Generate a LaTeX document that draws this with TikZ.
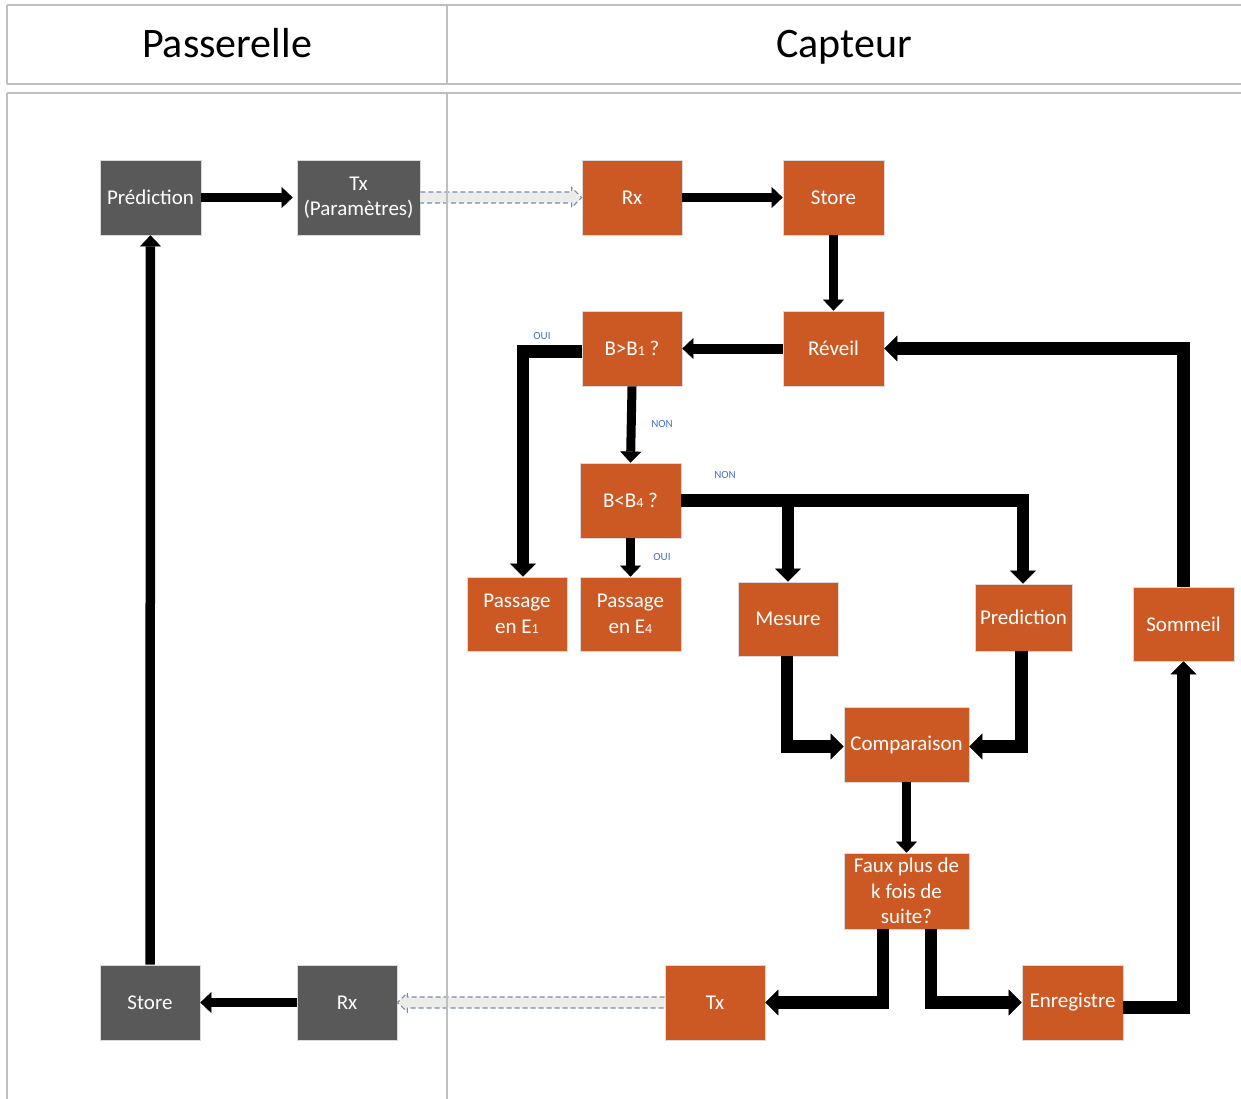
\documentclass[tikz,border=0pt]{standalone}
\usepackage{fontspec}
\setmainfont{Carlito}
\usetikzlibrary{arrows.meta}
\definecolor{org}{RGB}{204,89,36}
\definecolor{gry}{RGB}{89,89,89}
\definecolor{lbl}{RGB}{68,114,196}
\definecolor{frm}{RGB}{191,191,191}
\definecolor{dsh}{RGB}{120,140,170}
\definecolor{dfill}{RGB}{236,236,236}
\newcommand{\sbs}[1]{\raisebox{-0.5pt}{\fontsize{14}{14}\selectfont #1}}
\begin{document}
\begin{tikzpicture}[x=1pt,y=-1pt,
  box/.style={rectangle, inner sep=0pt, text=white, font=\fontsize{21}{25.5}\selectfont, align=center, draw=black!15, line width=0.8pt},
  obox/.style={box, fill=org},
  gbox/.style={box, fill=gry},
  sz/.style 2 args={minimum width=#1pt, minimum height=#2pt},
  arS/.style={draw=black, line width=#1pt, line join=miter, -{Triangle[width=21pt,length=11pt,line width=0.4pt]}},
  arS/.default=9,
  arL/.style={draw=black, line width=12.5pt, line join=miter, -{Triangle[width=26pt,length=13pt,line width=0.4pt]}},
  lab/.style={text=lbl, font=\fontsize{11}{11}\selectfont, inner sep=0pt},
  hdr/.style={font=\fontsize{42}{42}\selectfont, inner sep=0pt, anchor=base},
  frame/.style={draw=frm, line width=1.2pt},
  dshape/.style={draw=dsh, dash pattern=on 5pt off 3pt, line width=1.1pt},
]
\useasboundingbox (0,0) rectangle (1241,1099);

% headers
\node[hdr] (hpass) at (227,58) {Passerelle};
\node[hdr] (hcapt) at (844,58) {Capteur};

% Passerelle nodes
\node[gbox, sz={101}{75}] (gpred) at (150.5,197.5) {Prédiction};
\node[gbox, sz={123}{75}] (gtx) at (358.5,197.5) {Tx\\(Paramètres)};
\node[gbox, sz={100}{75}] (gstore) at (150,1002.5) {Store};
\node[gbox, sz={100}{75}] (grx) at (347,1002.5) {Rx};

% Capteur nodes
\node[obox, sz={100}{75}] (crx) at (632,197.5) {Rx};
\node[obox, sz={101}{75}] (cstore) at (833.5,197.5) {Store};
\node[obox, sz={101}{75}] (crev) at (833.5,348.5) {Réveil};
\node[obox, sz={100}{75}] (cb1) at (632,348.5) {B>B\sbs{1} ?};
\node[obox, sz={101}{75}] (cb4) at (630.5,500.5) {B<B\sbs{4} ?};
\node[obox, sz={100}{74}] (ce1) at (517,614) {Passage\\en E\sbs{1}};
\node[obox, sz={101}{74}] (ce4) at (630.5,614) {Passage\\en E\sbs{4}};
\node[obox, sz={100}{74}] (cmes) at (788,619) {Mesure};
\node[obox, sz={97}{67}] (cpred) at (1023.5,617.5) {Prediction};
\node[obox, sz={101}{74}] (csom) at (1183.5,624) {Sommeil};
\node[obox, sz={125}{75}] (ccomp) at (906.5,744.5) {Comparaison};
\node[obox, sz={125}{76}] (cfaux) at (906.5,891) {Faux plus de\\k fois de\\suite?};
\node[obox, sz={100}{75}] (ctx) at (715,1002.5) {Tx};
\node[obox, sz={101}{75}] (cenr) at (1072.5,1002.5) {Enregistre};

% labels
\node[lab] (loui1) at (542,336) {OUI};
\node[lab] (lnon1) at (662,424) {NON};
\node[lab] (lnon2) at (725,475) {NON};
\node[lab] (loui2) at (662,557) {OUI};

% dashed block arrows
\fill[dfill] ([yshift=5.5pt]gtx.east) -- ([xshift=-10pt,yshift=5.5pt]crx.west) -- ([xshift=-10pt,yshift=10pt]crx.west) -- (crx.west) -- ([xshift=-10pt,yshift=-10pt]crx.west) -- ([xshift=-10pt,yshift=-5.5pt]crx.west) -- ([yshift=-5.5pt]gtx.east) -- cycle;
\draw[dshape] ([yshift=5.5pt]gtx.east) -- ([xshift=-10pt,yshift=5.5pt]crx.west) -- ([xshift=-10pt,yshift=10pt]crx.west) -- (crx.west) -- ([xshift=-10pt,yshift=-10pt]crx.west) -- ([xshift=-10pt,yshift=-5.5pt]crx.west) -- ([yshift=-5.5pt]gtx.east);
\fill[dfill] ([yshift=5.5pt]ctx.west) -- ([xshift=10pt,yshift=5.5pt]grx.east) -- ([xshift=10pt,yshift=9.5pt]grx.east) -- (grx.east) -- ([xshift=10pt,yshift=-9.5pt]grx.east) -- ([xshift=10pt,yshift=-5.5pt]grx.east) -- ([yshift=-5.5pt]ctx.west) -- cycle;
\draw[dshape] ([yshift=5.5pt]ctx.west) -- ([xshift=10pt,yshift=5.5pt]grx.east) -- ([xshift=10pt,yshift=9.5pt]grx.east) -- (grx.east) -- ([xshift=10pt,yshift=-9.5pt]grx.east) -- ([xshift=10pt,yshift=-5.5pt]grx.east) -- ([yshift=-5.5pt]ctx.west);

% Passerelle arrows
\draw[arS=8.5] (gpred.east) -- ([xshift=-4pt]gtx.west);
\draw[arS=9.5] (gstore.north) -- (gpred.south);
\draw[arS=9.5] (grx.west) -- (gstore.east);

% Capteur arrows
\draw[arS=9] (crx.east) -- (cstore.west);
\draw[arS=9] (cstore.south) -- (crev.north);
\draw[arS=10] (crev.west) -- (cb1.east);
\draw[arL] (csom.north) |- (crev.east);
\draw[arL] ([yshift=-3pt]cb1.west) -| ([xshift=6pt]ce1.north);
\draw[arS=9] (cb1.south) -- (cb4.north);
\draw[arS=9] (cb4.south) -- (ce4.north);
\draw[arL] (cb4.east) -| (cmes.north);
\draw[arL] (cb4.east) -| ([xshift=-0.5pt]cpred.north);
\draw[arL] ([xshift=-1pt]cmes.south) |- ([yshift=-2pt]ccomp.west);
\draw[arL] ([xshift=-2pt]cpred.south) |- ([yshift=-2pt]ccomp.east);
\draw[arS=9] (ccomp.south) -- (cfaux.north);
\draw[arL] ([xshift=-23.5pt]cfaux.south) |- (ctx.east);
\draw[arL] ([xshift=24.5pt]cfaux.south) |- (cenr.west);
\draw[arL] ([yshift=-5pt]cenr.east) -| (csom.south);

% frames
\draw[frame] (7,5) -- (1241,5);
\draw[frame] (7,84) -- (1241,84);
\draw[frame] (7,5) -- (7,84);
\draw[frame] (447,5) -- (447,84);
\draw[frame] (7,93) -- (1241,93);
\draw[frame] (7,93) -- (7,1099);
\draw[frame] (447,93) -- (447,1099);
\end{tikzpicture}
\end{document}
